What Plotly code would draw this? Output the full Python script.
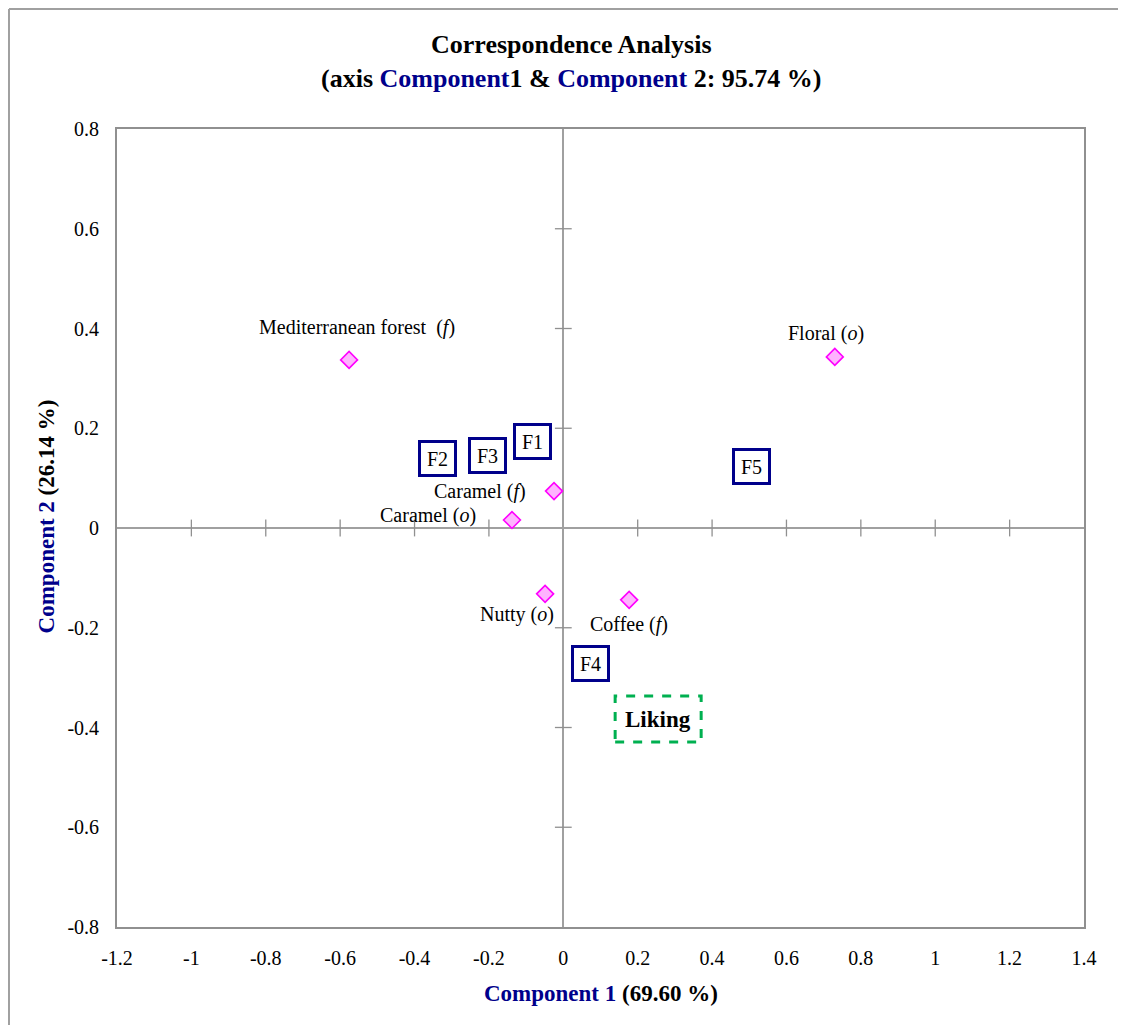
import plotly.graph_objects as go

# Attribute points (pink diamonds)
attr_names = ["Mediterranean forest  (<i>f</i>)", "Floral (<i>o</i>)", "Caramel (<i>f</i>)",
              "Caramel (<i>o</i>)", "Nutty (<i>o</i>)", "Coffee (<i>f</i>)"]
attr_x = [-0.576, 0.730, -0.025, -0.138, -0.049, 0.177]
attr_y = [0.337, 0.343, 0.074, 0.016, -0.132, -0.144]

# Product points (boxed labels)
prod_names = ["F1", "F2", "F3", "F4", "F5"]
prod_x = [-0.082, -0.337, -0.205, 0.072, 0.505]
prod_y = [0.174, 0.140, 0.146, -0.271, 0.124]

# Supplementary variable
liking_name = "Liking"
liking_x = 0.255
liking_y = -0.383

x_ticks = [-1.2, -1, -0.8, -0.6, -0.4, -0.2, 0, 0.2, 0.4, 0.6, 0.8, 1, 1.2, 1.4]
y_ticks = [-0.8, -0.6, -0.4, -0.2, 0, 0.2, 0.4, 0.6, 0.8]

FONT = "Liberation Serif"
NAVY = "#00008B"
GRAY = "#909090"

# label placement (pixels) for attribute labels
label_shift = [(8, 32, "center"), (-9, 23, "center"), (-26, 0, "right"),
               (-34, 5, "right"), (-28, -21, "center"), (0, -25, "center")]

inner_x = [v for v in x_ticks if v not in (x_ticks[0], x_ticks[-1], 0)]
inner_y = [v for v in y_ticks if v not in (y_ticks[0], y_ticks[-1], 0)]

fig = go.Figure()

# tick crosses on the centre axes
fig.add_trace(go.Scatter(
    x=inner_x, y=[0] * len(inner_x),
    mode="markers", hoverinfo="skip", showlegend=False,
    marker=dict(symbol="line-ns-open", size=12, color=GRAY, line=dict(color=GRAY, width=1.3))))
fig.add_trace(go.Scatter(
    x=[0] * len(inner_y), y=inner_y,
    mode="markers", hoverinfo="skip", showlegend=False,
    marker=dict(symbol="line-ew-open", size=12, color=GRAY, line=dict(color=GRAY, width=1.3))))

fig.add_trace(go.Scatter(
    x=attr_x, y=attr_y, mode="markers", showlegend=False,
    marker=dict(symbol="diamond", size=13, color="#FFB3FF",
                line=dict(color="#FF00FF", width=1.6))))

annotations = []
for name, x, y, (dx, dy, anc) in zip(attr_names, attr_x, attr_y, label_shift):
    annotations.append(dict(x=x, y=y, text=name, showarrow=False, xanchor=anc,
                            xshift=dx, yshift=dy,
                            font=dict(family=FONT, size=20, color="black")))

for name, x, y in zip(prod_names, prod_x, prod_y):
    annotations.append(dict(x=x, y=y, text=name, showarrow=False,
                            width=33, height=31, bgcolor="white",
                            bordercolor=NAVY, borderwidth=3, borderpad=0,
                            font=dict(family=FONT, size=20, color="black")))

annotations.append(dict(x=liking_x, y=liking_y, text="<b>" + liking_name + "</b>",
                        showarrow=False, font=dict(family=FONT, size=23, color="black")))

shapes = [
    dict(type="rect", xref="x", yref="y", xsizemode="pixel", ysizemode="pixel",
         xanchor=liking_x, yanchor=liking_y, x0=-43, x1=43, y0=-23, y1=23,
         line=dict(color="#00B050", width=3, dash="dash"), fillcolor="rgba(0,0,0,0)"),
    # outer chart border (top / left)
    dict(type="line", xref="paper", yref="paper", x0=-0.1117, x1=1.06, y0=1.1503, y1=1.1503,
         line=dict(color="#A0A0A0", width=2)),
    dict(type="line", xref="paper", yref="paper", x0=-0.1117, x1=-0.1117, y0=-0.14, y1=1.1503,
         line=dict(color="#A0A0A0", width=2)),
]

# Title and axis titles
annotations.append(dict(
    xref="paper", yref="paper", x=0.4695, y=1.0846, showarrow=False,
    text="<b>Correspondence Analysis<br>(axis <span style='color:%s'>Component</span>1 &amp; "
         "<span style='color:%s'>Component</span> 2: 95.74 %%)</b>" % (NAVY, NAVY),
    font=dict(family=FONT, size=26, color="black"), yanchor="middle"))
annotations.append(dict(
    xref="paper", yref="paper", x=0.5, y=-0.1015, showarrow=False,
    text="<b><span style='color:%s'>Component 1</span> (69.60 %%)</b>" % NAVY,
    font=dict(family=FONT, size=23, color="black")))
annotations.append(dict(
    xref="paper", yref="paper", x=-0.088, y=0.515, showarrow=False, textangle=-90,
    text="<b><span style='color:%s'>Component 2</span> (26.14 %%)</b>" % NAVY,
    font=dict(family=FONT, size=23, color="black")))

axis_common = dict(showgrid=False, zeroline=True, zerolinecolor="#A0A0A0", zerolinewidth=1.5,
                   showline=True, linecolor=GRAY, linewidth=1.8, mirror=True,
                   ticks="", ticklabelstandoff=12, automargin=False,
                   tickfont=dict(family=FONT, size=20, color="black"))

fig.update_layout(
    width=1126, height=1025,
    margin=dict(l=109, r=50, t=121, b=106),
    paper_bgcolor="white", plot_bgcolor="white",
    annotations=annotations, shapes=shapes,
    font=dict(family=FONT, size=20, color="black"),
    xaxis=dict(range=[-1.2, 1.4], tickvals=x_ticks, ticktext=[str(v) for v in x_ticks], **axis_common),
    yaxis=dict(range=[-0.8, 0.8], tickvals=y_ticks, ticktext=[str(v) for v in y_ticks], **axis_common),
)

fig.write_html("out.html")
